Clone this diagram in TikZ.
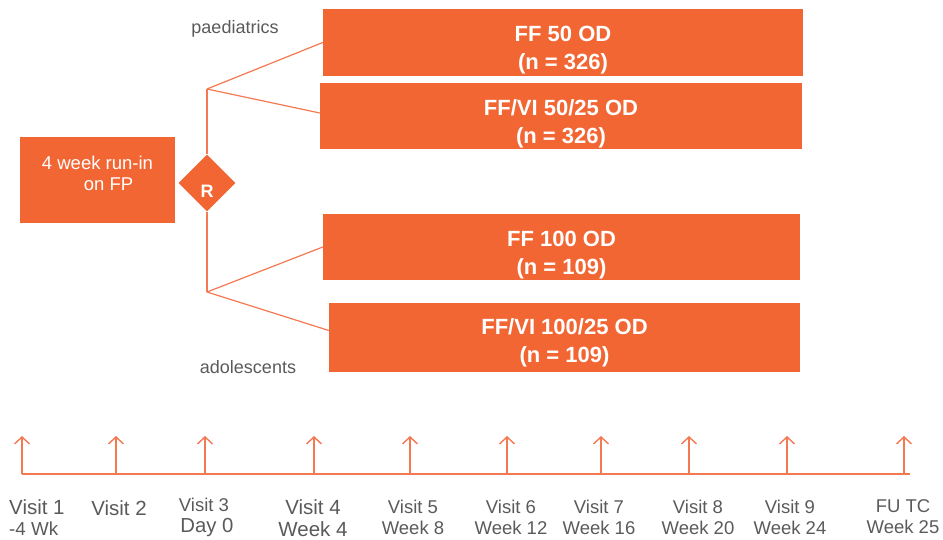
\documentclass[tikz,border=0pt]{standalone}
\usepackage{fontspec}
\setmainfont{Liberation Sans}
\usetikzlibrary{shapes.geometric,arrows.meta,calc}
\definecolor{org}{HTML}{F26633}
\definecolor{lin}{HTML}{F47850}
\definecolor{gry}{HTML}{5A5A5A}
\begin{document}
\begin{tikzpicture}[x=1pt,y=-1pt,
  tbox/.style={fill=org, draw=none, inner sep=0pt, align=center, text=white,
    font=\bfseries\fontsize{22}{28}\selectfont},
  wbox/.style={fill=org, draw=none, inner sep=0pt, align=center, text=white,
    font=\fontsize{18.5}{21}\selectfont},
  rdia/.style={diamond, fill=org, draw=none, inner sep=0pt, minimum width=57pt,
    minimum height=57pt, text=white, font=\bfseries\fontsize{18}{20}\selectfont},
  conn/.style={draw=lin, line width=1.2pt},
  tarrow/.style={draw=lin, line width=1.4pt, -{Straight Barb[length=7pt,width=15pt]}},
  grp/.style={text=gry, font=\fontsize{18}{20}\selectfont, inner sep=0pt},
  vlab/.style={text=gry, font=\fontsize{18.5}{21}\selectfont, inner sep=0pt, align=center},
  vlabL/.style={vlab, font=\fontsize{20.5}{21.5}\selectfont}]
\useasboundingbox (0,0) rectangle (943,540);

% treatment boxes
\node[tbox, minimum width=480pt, minimum height=67pt] (ff50) at (563,42.5)
  {\rule{0pt}{31pt}FF 50 OD\\(n = 326)};
\node[tbox, minimum width=482pt, minimum height=66pt] (ffvi50) at (561,116)
  {\rule{0pt}{31pt}FF/VI 50/25 OD\\(n = 326)};
\node[tbox, minimum width=477pt, minimum height=66pt] (ff100) at (561.5,247)
  {\rule{0pt}{31pt}FF 100 OD\\(n = 109)};
\node[tbox, minimum width=471pt, minimum height=69pt] (ffvi100) at (564.5,337.5)
  {\rule{0pt}{27pt}FF/VI 100/25 OD\\(n = 109)};

% run-in and randomisation
\node[wbox, minimum width=155pt, minimum height=86pt] (run) at (97.5,180)
  {4 week run-in\\\hspace*{22pt}on FP\rule[-13pt]{0pt}{13pt}};
\node[rdia] (R) at (207,183) {\raisebox{-8pt}[\height][\depth]{R}};

\coordinate (up) at (207,89);
\coordinate (low) at (207,292);
\draw[conn] (R.north) -- (up);
\draw[conn] (up) -- (ff50.west);
\draw[conn] (up) -- ($(ffvi50.west)+(0,-3)$);
\draw[conn] (R.south) -- (low);
\draw[conn] (low) -- (ff100.west);
\draw[conn] (low) -- ($(ffvi100.west)+(0,-7)$);

\node[grp] (paed) at (235,29) {paediatrics};
\node[grp] (adol) at (248,367) {adolescents};

% timeline
\coordinate (tl0) at (22,474);
\coordinate (tl1) at (910,474);
\draw[conn, line width=1.3pt] (tl0) -- (tl1);
\foreach \x [count=\i] in {22,116,205,314,410,507,601,689,787,904}{
  \coordinate (v\i) at (\x,474);
  \coordinate (w\i) at (\x,436);
  \draw[tarrow] (v\i) -- (w\i);
}

\node[vlabL, anchor=west, align=left] (l1) at (9,517.5) {Visit 1\\{\fontsize{18.8}{21}\selectfont -4 Wk}};
\node[vlabL] (l2) at (119,508) {Visit 2};
\node[vlab] (l3) at (204,517.5) {Visit 3\\\hspace*{6pt}{\fontsize{20.3}{22}\selectfont Day 0}};
\node[vlabL] (l4) at (313,518) {Visit 4\\Week 4};
\node[vlab] (l5) at (413,517.5) {Visit 5\\Week 8};
\node[vlab] (l6) at (511,517) {Visit 6\\Week 12};
\node[vlab] (l7) at (599,517) {Visit 7\\Week 16};
\node[vlab] (l8) at (698,517) {Visit 8\\Week 20};
\node[vlab] (l9) at (790,517) {Visit 9\\Week 24};
\node[vlab] (l10) at (903,517) {FU TC\\Week 25};
\end{tikzpicture}
\end{document}
